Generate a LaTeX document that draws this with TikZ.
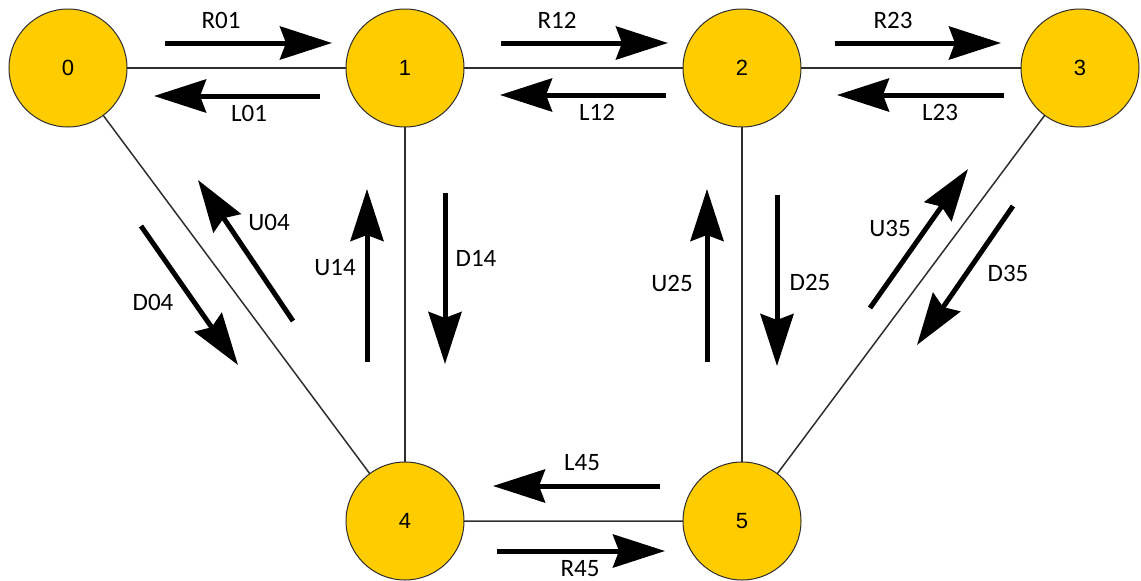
\documentclass[tikz,border=0pt]{standalone}
\usepackage{fontspec}
\setmainfont{Carlito}
\newfontfamily\numfont{Liberation Sans}
\usetikzlibrary{arrows.meta}
\definecolor{gold}{HTML}{FFCC00}
\definecolor{rim}{HTML}{2E2E2E}
\tikzset{
  state/.style={circle,draw=rim,line width=1pt,fill=gold,minimum size=118pt,inner sep=0pt,font=\numfont\fontsize{22}{22}\selectfont},
  link/.style={draw=rim,line width=1.5pt},
  move/.style={line width=5pt,-{Stealth[length=52pt,width=33pt,inset=6pt]}},
  tag/.style={inner sep=0pt,font=\fontsize{25}{25}\selectfont}
}
\begin{document}
\begin{tikzpicture}[x=1pt,y=-1pt]
\useasboundingbox (0,0) rectangle (1141,581);
% links between states (drawn first, circles cover their ends)
\coordinate (c0) at (68,68);
\coordinate (c1) at (405,68);
\coordinate (c2) at (742,68);
\coordinate (c3) at (1080,68);
\coordinate (c4) at (405,521);
\coordinate (c5) at (742,521);
\draw[link] (c0) -- (c1) -- (c2) -- (c3);
\draw[link] (c0) -- (c4) -- (c5) -- (c3);
\draw[link] (c1) -- (c4);
\draw[link] (c2) -- (c5);
% states
\node[state] (n0) at (c0) {0};
\node[state] (n1) at (c1) {1};
\node[state] (n2) at (c2) {2};
\node[state] (n3) at (c3) {3};
\node[state] (n4) at (c4) {4};
\node[state] (n5) at (c5) {5};
% arrow end points
\coordinate (r01a) at (165,43);  \coordinate (r01b) at (332,43);
\coordinate (l01a) at (320,96);  \coordinate (l01b) at (154,96);
\coordinate (r12a) at (501,43);  \coordinate (r12b) at (668,43);
\coordinate (l12a) at (666,95);  \coordinate (l12b) at (500,95);
\coordinate (r23a) at (835,43);  \coordinate (r23b) at (1001,43);
\coordinate (l23a) at (1004,95); \coordinate (l23b) at (837,95);
\coordinate (u04a) at (293,321); \coordinate (u04b) at (198,180);
\coordinate (d04a) at (141,226); \coordinate (d04b) at (238,365);
\coordinate (u14a) at (367,362); \coordinate (u14b) at (367,189);
\coordinate (d14a) at (445,193); \coordinate (d14b) at (445,364);
\coordinate (u25a) at (707,362); \coordinate (u25b) at (707,189);
\coordinate (d25a) at (777,195); \coordinate (d25b) at (777,366);
\coordinate (u35a) at (870,308); \coordinate (u35b) at (968,169);
\coordinate (d35a) at (1013,206); \coordinate (d35b) at (917,345);
\coordinate (l45a) at (660,486); \coordinate (l45b) at (493,486);
\coordinate (r45a) at (497,551); \coordinate (r45b) at (665,551);
% moves
\draw[move] (r01a) -- (r01b);
\draw[move] (l01a) -- (l01b);
\draw[move] (r12a) -- (r12b);
\draw[move] (l12a) -- (l12b);
\draw[move] (r23a) -- (r23b);
\draw[move] (l23a) -- (l23b);
\draw[move] (u04a) -- (u04b);
\draw[move] (d04a) -- (d04b);
\draw[move] (u14a) -- (u14b);
\draw[move] (d14a) -- (d14b);
\draw[move] (u25a) -- (u25b);
\draw[move] (d25a) -- (d25b);
\draw[move] (u35a) -- (u35b);
\draw[move] (d35a) -- (d35b);
\draw[move] (l45a) -- (l45b);
\draw[move] (r45a) -- (r45b);
% move labels
\node[tag] (tR01) at (221,20) {R01};
\node[tag] (tL01) at (249,113) {L01};
\node[tag] (tR12) at (557,20) {R12};
\node[tag] (tL12) at (597,112) {L12};
\node[tag] (tR23) at (893,20) {R23};
\node[tag] (tL23) at (940,112) {L23};
\node[tag] (tU04) at (269,222) {U04};
\node[tag] (tD04) at (153,302) {D04};
\node[tag] (tU14) at (335,268) {U14};
\node[tag] (tD14) at (476,258) {D14};
\node[tag] (tU25) at (672,283) {U25};
\node[tag] (tD25) at (810,282) {D25};
\node[tag] (tU35) at (890,228) {U35};
\node[tag] (tD35) at (1008,273) {D35};
\node[tag] (tL45) at (582,463) {L45};
\node[tag] (tR45) at (580,569) {R45};
\end{tikzpicture}
\end{document}
